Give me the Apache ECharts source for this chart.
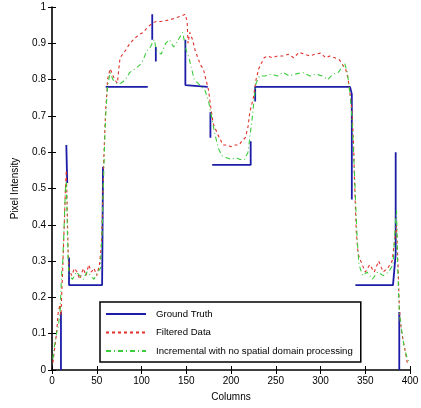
<!DOCTYPE html>
<html>
<head>
<meta charset="utf-8">
<script src="https://cdn.jsdelivr.net/npm/echarts@6/dist/echarts.min.js"></script>
<style>
  html, body { margin: 0; padding: 0; background: #fff; }
  #chart { width: 421px; height: 408px; }
</style>
</head>
<body>
<div id="chart"></div>
<script>
// Column profile: ground truth vs. two reconstructions
const seriesNames = ['Ground Truth', 'Filtered Data', 'Incremental with no spatial domain processing'];

const xTicks = [0, 50, 100, 150, 200, 250, 300, 350, 400];
const yTicks = [0, 0.1, 0.2, 0.3, 0.4, 0.5, 0.6, 0.7, 0.8, 0.9, 1];

// Ground truth (null marks a break in the trace)
const truthCols = [10, 10, null, 16, 17, null, 19, 19, 56, 57, null, 60, 107, null, 112, 112, null, 116, 116, null,
  149, 149, 174, null, 177, 177, null, 179, 222, 222, null, 227, 227, 333, 335, 335, null,
  339, 381, 384, 384, 384, null, 388, 388];
const truthVals = [0, 0.16, null, 0.62, 0.515, null, 0.31, 0.234, 0.234, 0.56, null, 0.78, 0.78, null, 0.98, 0.91, null, 0.89, 0.85, null,
  0.91, 0.785, 0.78, null, 0.71, 0.64, null, 0.565, 0.565, 0.63, null, 0.74, 0.78, 0.78, 0.76, 0.47, null,
  0.234, 0.234, 0.32, 0.515, 0.6, null, 0.16, 0];

// Filtered data
const filtCols = [1, 3, 5, 7, 9, 10, 11, 12, 13, 14, 15, 16, 17, 18, 19, 22, 25, 28, 31, 35, 38, 41, 44, 47, 50, 53,
  55, 56, 57, 58, 59, 60, 61, 62, 65, 70, 73, 76, 82, 87, 93, 98, 102, 107, 112, 116, 121, 126, 132, 138, 144, 149,
  151, 152, 154, 157, 160, 163, 166, 169, 172, 175, 177, 180, 185, 191, 196, 200, 205, 209, 212, 216, 219, 221, 225,
  228, 231, 234, 237, 241, 246, 252, 258, 264, 270, 276, 282, 288, 294, 300, 306, 310, 316, 321, 325, 328, 331, 333,
  335, 337, 338, 339, 340, 342, 345, 350, 355, 360, 365, 370, 375, 380, 383, 385, 386, 387, 388, 389, 391, 394, 397];
const filtVals = [0.02, 0.06, 0.10, 0.16, 0.18, 0.15, 0.22, 0.28, 0.35, 0.42, 0.50, 0.55, 0.45, 0.33, 0.28, 0.26, 0.28, 0.27, 0.25, 0.28, 0.26, 0.29, 0.27, 0.28, 0.26, 0.29,
  0.34, 0.40, 0.50, 0.59, 0.66, 0.72, 0.75, 0.80, 0.83, 0.80, 0.79, 0.86, 0.88, 0.90, 0.915, 0.925, 0.93, 0.945, 0.955, 0.96, 0.96, 0.962, 0.965, 0.97, 0.975, 0.98,
  0.96, 0.90, 0.93, 0.91, 0.88, 0.86, 0.84, 0.83, 0.80, 0.77, 0.73, 0.68, 0.65, 0.62, 0.62, 0.615, 0.62, 0.62, 0.63, 0.64, 0.67, 0.71, 0.75,
  0.80, 0.83, 0.845, 0.86, 0.865, 0.86, 0.865, 0.865, 0.87, 0.86, 0.875, 0.87, 0.865, 0.87, 0.873, 0.86, 0.865, 0.86, 0.855, 0.84, 0.83, 0.80, 0.76,
  0.72, 0.62, 0.52, 0.45, 0.38, 0.32, 0.30, 0.27, 0.29, 0.27, 0.30, 0.27, 0.28, 0.30, 0.36, 0.40, 0.33, 0.26, 0.18, 0.14, 0.10, 0.06, 0.02];

// Incremental reconstruction
const incrCols = [1, 3, 5, 7, 9, 11, 12, 13, 14, 15, 16, 17, 18, 19, 23, 27, 31, 35, 39, 43, 47, 51, 54, 56, 57, 58,
  59, 60, 61, 62, 65, 68, 72, 77, 82, 87, 93, 98, 102, 106, 110, 114, 117, 122, 127, 131, 136, 141, 146, 150, 153,
  156, 159, 163, 167, 171, 175, 178, 182, 186, 190, 195, 200, 205, 210, 215, 219, 222, 224, 226, 228, 232, 238, 245,
  252, 258, 265, 272, 280, 288, 295, 302, 308, 314, 320, 324, 327, 330, 333, 335, 337, 339, 341, 343, 347, 352, 358,
  364, 370, 376, 381, 384, 385, 386, 388, 390, 393, 396, 399];
const incrVals = [0.03, 0.07, 0.10, 0.12, 0.16, 0.28, 0.30, 0.36, 0.43, 0.50, 0.52, 0.40, 0.30, 0.26, 0.25, 0.27, 0.26, 0.25, 0.27, 0.26, 0.25, 0.27, 0.28, 0.38, 0.48, 0.56,
  0.64, 0.70, 0.74, 0.78, 0.82, 0.80, 0.79, 0.79, 0.80, 0.82, 0.83, 0.84, 0.855, 0.88, 0.89, 0.91, 0.88, 0.87, 0.90, 0.91, 0.89, 0.91, 0.93, 0.88, 0.86,
  0.83, 0.80, 0.79, 0.78, 0.77, 0.74, 0.70, 0.65, 0.61, 0.59, 0.585, 0.58, 0.585, 0.58, 0.58, 0.60, 0.66, 0.70, 0.75, 0.79, 0.81, 0.81, 0.815,
  0.81, 0.82, 0.81, 0.815, 0.82, 0.81, 0.815, 0.81, 0.80, 0.815, 0.82, 0.835, 0.845, 0.82, 0.76, 0.70, 0.60, 0.48, 0.36, 0.29, 0.26, 0.27, 0.25,
  0.27, 0.26, 0.27, 0.29, 0.42, 0.44, 0.30, 0.16, 0.12, 0.07, 0.04, 0.02];

function pairs(cols, vals) {
  return cols.map((c, i) => (c === null ? [null, null] : [c, vals[i]]));
}

const font = 'Liberation Sans, Arial, Helvetica, sans-serif';
const black = '#000';

const chart = echarts.init(document.getElementById('chart'), null, { renderer: 'canvas' });

const baseX = {
  type: 'value', min: xTicks[0], max: xTicks[xTicks.length - 1], interval: 50,
  splitLine: { show: false },
  axisTick: { show: true, inside: true, length: 4, lineStyle: { color: black } }
};
const baseY = {
  type: 'value', min: yTicks[0], max: yTicks[yTicks.length - 1], interval: 0.1,
  splitLine: { show: false },
  axisTick: { show: true, inside: true, length: 4, lineStyle: { color: black } }
};

chart.setOption({
  animation: false,
  backgroundColor: '#fff',
  grid: { left: 52, right: 11, top: 7, bottom: 38, containLabel: false, outerBoundsMode: 'none' },
  xAxis: [
    Object.assign({}, baseX, {
      position: 'bottom',
      axisLine: { show: false },
      axisLabel: { color: black, fontSize: 10, fontFamily: font, margin: 6 },
      name: 'Columns', nameLocation: 'middle', nameGap: 22,
      nameTextStyle: { color: black, fontSize: 10, fontFamily: font }
    }),
    Object.assign({}, baseX, {
      position: 'top',
      axisLine: { show: true, lineStyle: { color: black, width: 1.6 } },
      axisLabel: { show: false }
    })
  ],
  yAxis: [
    Object.assign({}, baseY, {
      position: 'left',
      axisLine: { show: false },
      axisLabel: { color: black, fontSize: 10, fontFamily: font, margin: 6 },
      name: 'Pixel Intensity', nameLocation: 'middle', nameGap: 32, nameRotate: 90,
      nameTextStyle: { color: black, fontSize: 10, fontFamily: font }
    }),
    Object.assign({}, baseY, {
      position: 'right',
      axisLine: { show: true, lineStyle: { color: black, width: 1.6 } },
      axisLabel: { show: false }
    })
  ],
  legend: {
    orient: 'vertical',
    left: 100, top: 302,
    backgroundColor: '#fff',
    borderColor: black, borderWidth: 1.5, borderRadius: 0,
    padding: [7, 8, 6, 5],
    itemGap: 8.5, itemWidth: 40, itemHeight: 12,
    itemStyle: { color: 'transparent', borderColor: 'transparent', borderWidth: 0 },
    textStyle: { color: black, fontSize: 9.6, fontFamily: font, padding: [0, 0, 0, 5] },
    data: seriesNames
  },
  series: [
    {
      name: seriesNames[0], type: 'line', data: pairs(truthCols, truthVals),
      showSymbol: false, symbol: 'none', connectNulls: false,
      lineStyle: { color: '#1c1ca8', width: 1.8 }, itemStyle: { color: '#1c1ca8' }, z: 2
    },
    {
      name: seriesNames[1], type: 'line', data: pairs(filtCols, filtVals),
      showSymbol: false, symbol: 'none',
      lineStyle: { color: '#e0302a', width: 1.1, type: [3, 3] }, itemStyle: { color: '#e0302a' }, z: 3
    },
    {
      name: seriesNames[2], type: 'line', data: pairs(incrCols, incrVals),
      showSymbol: false, symbol: 'none',
      lineStyle: { color: '#3ccc3c', width: 1.1, type: [5, 3, 1, 3] }, itemStyle: { color: '#3ccc3c' }, z: 4
    }
  ]
});
</script>
</body>
</html>
